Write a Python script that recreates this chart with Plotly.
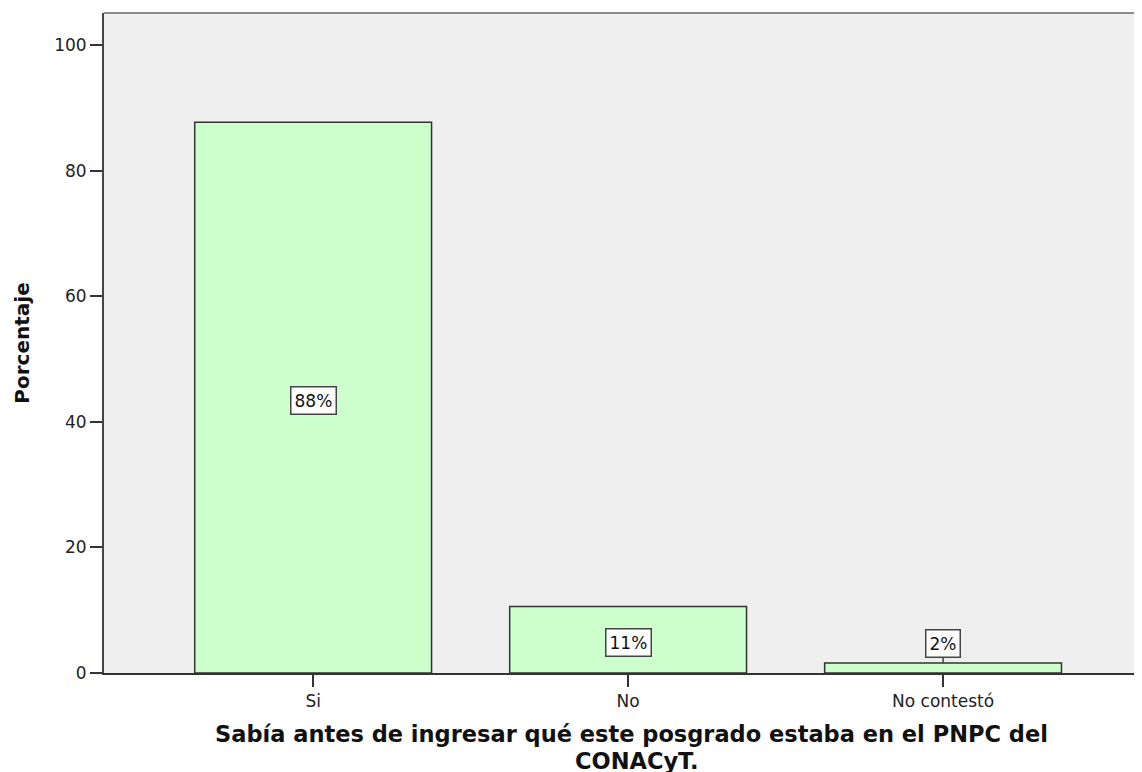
import plotly.graph_objects as go

categories = ["Si", "No", "No contestó"]
percentages = [87.7, 10.6, 1.6]
bar_labels = ["88%", "11%", "2%"]
x_title_lines = ["Sabía antes de ingresar qué este posgrado estaba en el PNPC del", "CONACyT."]

fig = go.Figure()

fig.add_trace(go.Bar(
    x=categories,
    y=percentages,
    width=0.752,
    marker=dict(color="#ccffcc", line=dict(color="#333333", width=1.5)),
    hoverinfo="x+y",
))

# value labels in boxes (inside the bar, or above with a leader line when the bar is short)
for cat, val, lab in zip(categories, percentages, bar_labels):
    if val >= 5:
        fig.add_annotation(x=cat, y=val / 2, text=lab, showarrow=False, yshift=-3,
                           font=dict(family="DejaVu Sans", size=17, color="#111111"),
                           bgcolor="white", bordercolor="#444444", borderwidth=1.5, borderpad=3)
    else:
        fig.add_annotation(x=cat, y=val, text=lab, showarrow=True, arrowhead=0,
                           arrowcolor="#444444", arrowwidth=1.5, ax=0, ay=-19,
                           font=dict(family="DejaVu Sans", size=17, color="#111111"),
                           bgcolor="white", bordercolor="#444444", borderwidth=1.5, borderpad=3)

# x axis title, two tight lines
for line, xpos, shift in zip(x_title_lines, [0.504, 0.510], [-61, -88]):
    fig.add_annotation(xref="paper", yref="paper", x=xpos, y=0, yanchor="middle",
                       yshift=shift, text="<b>" + line + "</b>", showarrow=False, borderpad=0,
                       font=dict(family="DejaVu Sans", size=22.5, color="#111111"))

# top frame line
fig.add_shape(type="line", xref="paper", yref="paper", x0=0, x1=1, y0=1, y1=1,
              line=dict(color="#8a8a8a", width=2))

fig.update_layout(
    width=1142,
    height=772,
    margin=dict(l=96, r=0, t=5, b=107),
    paper_bgcolor="white",
    plot_bgcolor="#efefef",
    showlegend=False,
    font=dict(family="DejaVu Sans", color="#222222"),
    xaxis=dict(
        range=[-0.664, 2.657],
        showline=True, linecolor="#333333", linewidth=2,
        ticks="outside", ticklen=12, tickwidth=2, tickcolor="#333333",
        tickfont=dict(size=17, color="#222222"),
        showgrid=False, zeroline=False,
    ),
    yaxis=dict(
        range=[0, 105.1],
        tickvals=[0, 20, 40, 60, 80, 100],
        showline=True, linecolor="#444444", linewidth=2,
        ticks="outside", ticklen=12, tickwidth=2, tickcolor="#333333",
        tickfont=dict(size=17, color="#222222"),
        showgrid=False, zeroline=False,
        title=dict(text="<b>Porcentaje</b>", font=dict(size=20, color="#111111"), standoff=19),
    ),
)

fig.write_html("out.html")
